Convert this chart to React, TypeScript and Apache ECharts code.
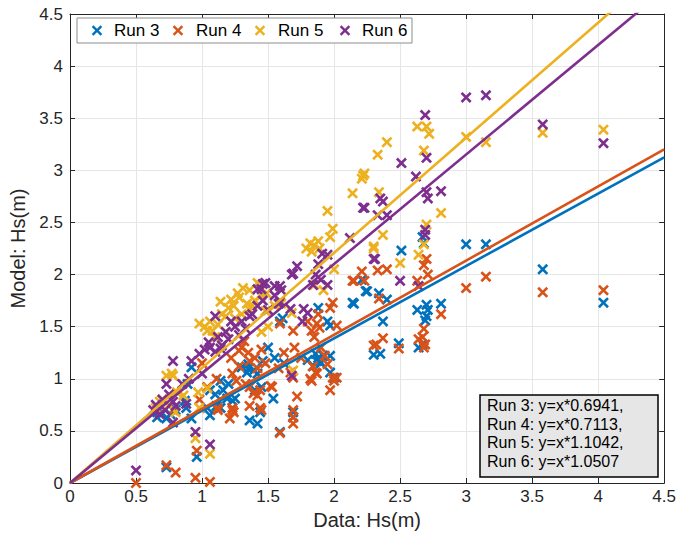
import React, { useEffect, useRef } from "react";
import * as echarts from "echarts";

const runNames = ["Run 3", "Run 4", "Run 5", "Run 6"];
const runColors = ["#0072BD", "#D95319", "#EDB120", "#7E2F8E"];
const fitSlopes = [0.6941, 0.7113, 1.1042, 1.0507];

const run3Points = [
  [0.73, 0.15], [0.96, 0.25],
  [0.66, 0.63], [0.70, 0.67], [0.73, 0.62], [0.66, 0.68], [0.76, 0.66], [0.80, 0.70],
  [0.92, 1.11], [0.92, 0.62], [0.87, 0.79], [0.88, 0.72], [1.04, 0.72], [1.11, 0.74], [1.06, 0.65],
  [0.89, 0.95], [1.06, 0.89], [1.14, 0.98],
  [1.16, 0.89], [1.19, 0.81], [1.14, 0.72], [1.23, 0.79], [1.25, 0.81], [1.10, 0.85], [1.20, 0.95],
  [1.36, 0.60], [1.42, 0.57], [1.44, 0.68], [1.40, 0.89], [1.45, 0.92], [1.39, 1.08], [1.42, 1.05],
  [1.30, 1.11], [1.34, 1.06], [1.35, 1.10], [1.35, 1.14], [1.46, 1.17], [1.54, 0.81], [1.59, 0.49],
  [1.69, 0.63], [1.69, 0.68], [1.59, 1.55], [1.61, 1.58], [1.55, 1.20], [1.62, 1.15], [1.50, 1.30],
  [1.86, 1.24], [1.87, 1.17], [1.88, 1.20], [1.84, 1.12], [1.90, 1.15], [1.92, 1.22], [1.80, 1.18],
  [1.89, 1.17], [1.97, 1.06], [2.00, 1.01], [1.97, 1.22],
  [1.88, 1.68], [1.95, 1.55], [1.97, 1.51], [2.14, 1.73], [2.15, 1.72], [2.25, 1.84], [2.24, 1.84],
  [2.21, 1.95], [2.34, 1.82], [2.40, 1.76], [2.37, 1.55], [2.30, 1.23], [2.35, 1.24], [2.49, 1.34],
  [2.51, 2.23], [2.63, 1.66], [2.70, 1.71], [2.71, 1.66], [2.70, 1.60], [2.69, 1.56], [2.81, 1.72],
  [2.64, 1.30], [2.67, 1.33], [2.67, 2.36], [2.68, 2.30], [3.00, 2.29], [3.15, 2.29], [3.58, 2.05],
  [4.04, 1.73],
];

const run4Points = [
  [0.50, 0.00], [0.73, 0.17], [0.80, 0.10], [0.95, 0.05], [1.06, 0.01], [0.96, 0.31],
  [0.78, 0.70], [0.98, 0.80], [1.00, 1.15], [1.04, 0.92], [1.11, 1.00], [1.12, 0.70], [1.12, 0.72],
  [1.21, 0.62], [1.23, 0.70], [1.24, 0.68], [1.23, 0.72], [1.36, 0.74], [1.44, 0.72], [1.45, 0.70],
  [1.23, 1.05], [1.28, 1.12], [1.33, 0.95], [1.36, 1.17], [1.26, 0.98], [1.36, 0.92], [1.39, 0.86],
  [1.42, 0.84], [1.44, 0.89], [1.52, 0.93], [1.53, 0.92],
  [1.30, 1.30], [1.35, 1.25], [1.40, 1.20], [1.45, 1.28], [1.48, 1.15], [1.32, 1.36], [1.42, 1.10],
  [1.22, 1.20], [1.28, 1.27],
  [1.59, 0.48], [1.69, 0.57], [1.69, 0.70], [1.72, 0.83], [1.69, 0.63], [1.67, 1.06], [1.69, 1.01],
  [1.62, 1.25], [1.70, 1.30], [1.75, 1.20], [1.58, 1.10],
  [1.83, 0.98], [1.86, 1.06], [1.82, 1.00], [1.87, 1.05], [1.84, 1.12], [1.95, 1.14], [2.02, 1.01],
  [1.97, 0.89], [1.99, 1.01], [2.00, 0.98],
  [1.80, 1.55], [1.85, 1.40], [1.90, 1.30], [1.93, 1.22], [1.88, 1.62],
  [1.59, 1.53], [1.69, 1.46], [1.87, 1.53], [1.89, 1.49], [1.83, 1.46], [2.02, 1.51], [1.99, 1.73],
  [1.97, 1.68],
  [2.14, 1.94], [2.21, 2.03], [2.33, 2.04], [2.40, 2.05], [2.15, 1.94], [2.23, 1.94], [2.34, 1.77],
  [2.63, 1.94], [2.68, 2.09], [2.71, 2.00], [2.70, 2.15], [2.81, 1.62], [2.68, 1.48], [2.67, 1.40],
  [2.64, 1.38], [2.69, 1.33], [2.68, 1.30],
  [2.37, 1.39], [2.30, 1.32], [2.32, 1.33], [2.49, 1.29],
  [3.00, 1.87], [3.15, 1.98], [3.58, 1.83], [4.04, 1.85],
];

const run5Points = [
  [0.95, 0.43], [1.06, 0.28], [0.73, 1.03], [0.78, 1.03], [0.77, 1.05], [0.70, 0.80], [0.75, 0.75],
  [0.81, 0.87], [0.86, 0.84], [0.97, 0.87], [1.04, 0.91], [0.98, 0.72], [0.65, 0.72], [0.68, 0.78],
  [0.80, 0.68],
  [0.98, 1.53], [1.04, 1.46], [1.08, 1.46], [1.02, 1.50], [1.06, 1.55], [1.12, 1.52], [1.14, 1.74],
  [1.20, 1.68], [1.18, 1.60], [1.15, 1.62], [1.24, 1.70], [1.27, 1.82], [1.31, 1.87], [1.28, 1.78],
  [1.22, 1.76], [1.34, 1.72], [1.36, 1.66], [1.10, 1.40], [1.18, 1.45], [1.25, 1.58], [1.30, 1.62],
  [1.40, 1.75], [1.45, 1.80], [1.38, 1.70], [1.36, 1.85], [1.42, 1.92], [1.49, 1.82],
  [1.48, 1.65], [1.55, 1.70], [1.60, 1.72], [1.68, 1.63], [1.69, 1.08], [1.50, 1.50], [1.45, 1.45],
  [1.79, 2.25], [1.82, 2.30], [1.85, 2.28], [1.88, 2.32], [1.89, 2.25], [1.83, 2.22], [1.97, 2.36],
  [1.95, 2.61], [1.99, 2.44],
  [1.85, 1.90], [1.92, 1.85], [2.00, 2.05],
  [2.14, 2.78], [2.21, 2.92], [2.23, 2.97], [2.22, 2.95], [2.33, 3.15], [2.40, 3.27], [2.34, 2.79],
  [2.30, 2.25], [2.37, 2.38], [2.30, 2.27],
  [2.81, 2.59], [2.70, 2.48], [2.68, 2.29], [2.64, 2.19], [2.50, 2.11], [2.63, 3.42], [2.70, 3.42],
  [2.72, 3.35], [2.68, 3.19],
  [3.00, 3.32], [3.15, 3.27], [3.58, 3.36], [4.04, 3.39],
];

const run6Points = [
  [0.50, 0.12], [0.95, 0.49], [1.06, 0.37], [0.78, 1.17], [0.92, 1.17], [0.73, 0.95], [0.78, 0.58],
  [0.65, 0.75], [0.70, 0.80], [0.72, 0.70], [0.75, 0.85], [0.78, 0.78], [0.63, 0.70], [0.68, 0.66],
  [0.80, 0.74], [0.85, 0.95], [0.90, 1.00], [0.88, 0.76], [0.98, 1.24], [1.02, 1.28], [1.06, 1.30],
  [1.10, 1.26], [1.14, 1.29], [1.00, 1.05],
  [1.05, 1.35], [1.12, 1.40], [1.18, 1.45], [1.20, 1.38], [1.25, 1.50], [1.28, 1.42], [1.30, 1.55],
  [1.33, 1.48], [1.36, 1.60], [1.22, 1.55], [1.15, 1.32], [1.10, 1.60],
  [1.38, 1.62], [1.42, 1.70], [1.46, 1.75], [1.50, 1.66], [1.55, 1.80], [1.58, 1.72], [1.60, 1.85],
  [1.45, 1.86], [1.42, 1.86], [1.48, 1.92], [1.59, 1.89], [1.55, 1.89], [1.46, 1.91],
  [1.59, 1.74], [1.67, 1.67], [1.77, 1.67], [1.80, 1.63], [1.76, 1.55], [1.69, 2.01], [1.72, 2.08],
  [1.68, 2.00], [1.84, 1.90], [1.86, 2.00], [1.88, 2.10], [1.90, 1.95], [1.95, 1.90], [1.91, 2.20],
  [1.95, 2.19], [1.68, 1.03],
  [2.12, 2.35], [2.22, 2.64], [2.23, 2.64], [2.35, 2.73], [2.37, 2.70], [2.33, 2.57], [2.40, 2.57],
  [2.30, 2.15], [2.31, 2.15], [2.50, 1.94], [2.64, 1.89], [2.51, 3.07], [2.62, 2.94], [2.70, 3.12],
  [2.69, 3.53], [2.81, 2.80], [2.70, 2.79], [2.71, 2.73], [2.69, 2.43], [2.69, 2.38],
  [3.00, 3.70], [3.15, 3.72], [3.58, 3.44], [4.04, 3.26],
];

const runPoints = [run3Points, run4Points, run5Points, run6Points];
const axisMin = 0;
const axisMax = 4.5;
const axisStep = 0.5;

const FONT = '"Liberation Sans", Arial, Helvetica, sans-serif';
const xMarker =
  "path://M1.7,0L5,3.3L8.3,0L10,1.7L6.7,5L10,8.3L8.3,10L5,6.7L1.7,10L0,8.3L3.3,5L0,1.7Z";
const axisColor = "#262626";

// legend layout (pixels)
const legendBox = { x: 77, y: 18, w: 335, h: 25 };
const legendIconX = [97, 178, 260, 345];
const legendTextX = [114, 196, 278, 362];

function xIcon(cx: number, cy: number, color: string) {
  const r = 4.4;
  const common = { style: { stroke: color, lineWidth: 2.4 }, z: 101 };
  return [
    { type: "line", shape: { x1: cx - r, y1: cy - r, x2: cx + r, y2: cy + r }, ...common },
    { type: "line", shape: { x1: cx - r, y1: cy + r, x2: cx + r, y2: cy - r }, ...common },
  ];
}

export default function App() {
  const ref = useRef<HTMLDivElement>(null);
  useEffect(() => {
    const chart = echarts.init(ref.current as HTMLDivElement, null, { renderer: "svg" });
    const baseAxis = {
      type: "value",
      min: axisMin,
      max: axisMax,
      interval: axisStep,
    };
    const eqLines = runNames.map(
      (n, i) => `${n}: y=x*${fitSlopes[i].toFixed(4)}${i < runNames.length - 1 ? "," : ""}`
    );
    const legendCy = legendBox.y + legendBox.h / 2;
    const legendElements: any[] = [
      {
        type: "rect",
        shape: { x: legendBox.x, y: legendBox.y, width: legendBox.w, height: legendBox.h },
        style: { fill: "#fff", stroke: "#8c8c8c", lineWidth: 1 },
        z: 100,
      },
    ];
    runNames.forEach((n, i) => {
      legendElements.push(...xIcon(legendIconX[i], legendCy, runColors[i]));
      legendElements.push({
        type: "text",
        x: legendTextX[i],
        y: legendCy,
        z: 101,
        style: {
          text: n,
          font: `17px ${FONT}`,
          fill: "#000",
          verticalAlign: "middle",
          align: "left",
        },
      });
    });
    const annotElements: any[] = [
      {
        type: "rect",
        shape: { x: 480, y: 395, width: 178, height: 82 },
        style: { fill: "#e6e6e6", stroke: "#000", lineWidth: 1.5 },
        z: 100,
      },
      ...eqLines.map((t, i) => ({
        type: "text",
        x: 487,
        y: 405.5 + i * 18.5,
        z: 101,
        style: {
          text: t,
          font: `16px ${FONT}`,
          fill: "#000",
          verticalAlign: "middle",
          align: "left",
        },
      })),
    ];
    chart.setOption({
      animation: false,
      backgroundColor: "#fff",
      grid: { left: 70, right: 14, top: 14, bottom: 53, containLabel: false },
      xAxis: [
        {
          ...baseAxis,
          position: "bottom",
          name: "Data: Hs(m)",
          nameLocation: "middle",
          nameGap: 21,
          nameTextStyle: { fontSize: 20, color: axisColor, fontFamily: FONT },
          axisLine: { show: true, onZero: false, lineStyle: { color: axisColor, width: 1 } },
          axisTick: { show: true, inside: true, length: 5, lineStyle: { color: axisColor } },
          axisLabel: { fontSize: 17, color: axisColor, margin: 5, fontFamily: FONT },
          splitLine: { show: true, lineStyle: { color: "#e6e6e6", width: 1 } },
        },
        {
          ...baseAxis,
          position: "top",
          axisLine: { show: true, onZero: false, lineStyle: { color: axisColor, width: 1 } },
          axisTick: { show: true, inside: true, length: 5, lineStyle: { color: axisColor } },
          axisLabel: { show: false },
          splitLine: { show: false },
        },
      ],
      yAxis: [
        {
          ...baseAxis,
          position: "left",
          name: "Model: Hs(m)",
          nameLocation: "middle",
          nameGap: 33,
          nameTextStyle: { fontSize: 20, color: axisColor, fontFamily: FONT },
          axisLine: { show: true, onZero: false, lineStyle: { color: axisColor, width: 1 } },
          axisTick: { show: true, inside: true, length: 5, lineStyle: { color: axisColor } },
          axisLabel: { fontSize: 17, color: axisColor, margin: 7, fontFamily: FONT },
          splitLine: { show: true, lineStyle: { color: "#e6e6e6", width: 1 } },
        },
        {
          ...baseAxis,
          position: "right",
          axisLine: { show: true, onZero: false, lineStyle: { color: axisColor, width: 1 } },
          axisTick: { show: true, inside: true, length: 5, lineStyle: { color: axisColor } },
          axisLabel: { show: false },
          splitLine: { show: false },
        },
      ],
      series: [
        ...runNames.map((n, i) => ({
          type: "scatter",
          name: n,
          data: runPoints[i],
          symbol: xMarker,
          symbolSize: 11,
          xAxisIndex: 0,
          yAxisIndex: 0,
          itemStyle: { color: runColors[i], opacity: 1 },
          z: 2,
        })),
        ...runNames.map((n, i) => ({
          type: "line",
          name: `${n} fit`,
          data: [
            [axisMin, axisMin * fitSlopes[i]],
            [axisMax, axisMax * fitSlopes[i]],
          ],
          showSymbol: false,
          symbol: "none",
          clip: true,
          xAxisIndex: 0,
          yAxisIndex: 0,
          lineStyle: { color: runColors[i], width: 2.6 },
          silent: true,
          z: 3,
        })),
      ],
      graphic: [...legendElements, ...annotElements],
    });
    return () => chart.dispose();
  }, []);
  return (
    <div
      ref={ref}
      style={{ position: "fixed", left: 0, top: 0, width: 679, height: 536 }}
    />
  );
}
